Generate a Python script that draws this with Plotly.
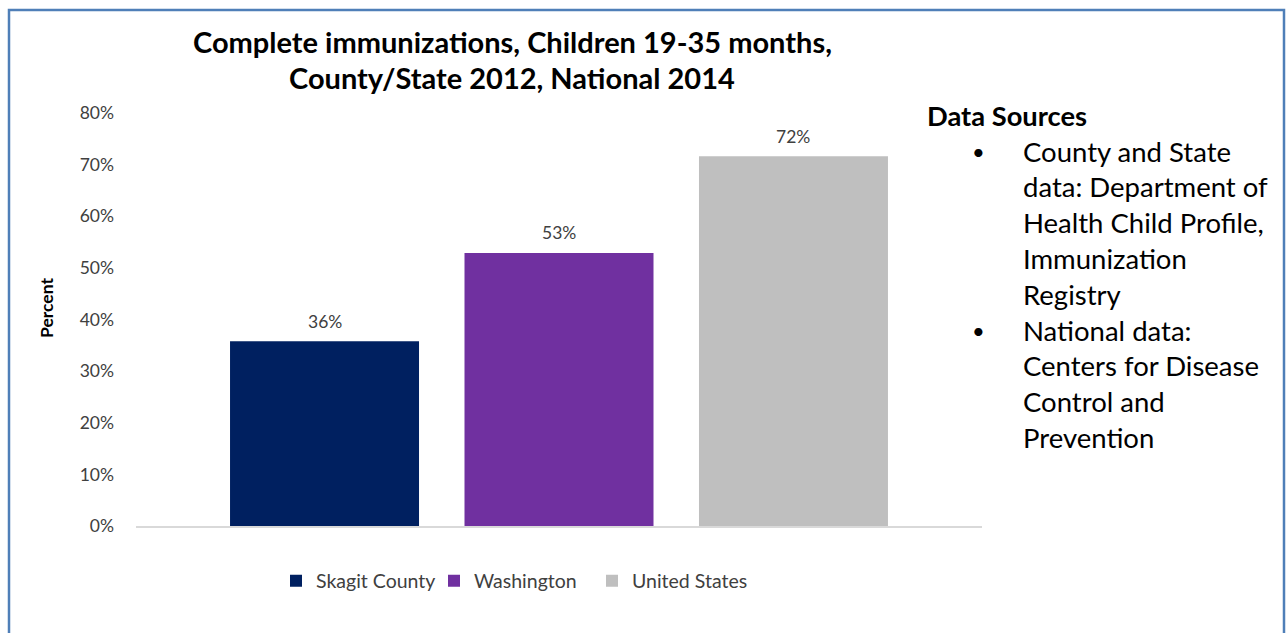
import plotly.graph_objects as go

categories = ["Skagit County", "Washington", "United States"]
values = [35.8, 52.9, 71.6]
labels = ["36%", "53%", "72%"]
colors = ["#002060", "#7030A0", "#BFBFBF"]
yticks = [0, 10, 20, 30, 40, 50, 60, 70, 80]
ytick_text = [f"{v}%" for v in yticks]
title_lines = ["Complete immunizations, Children 19-35 months,", "County/State 2012, National 2014"]
source_head = "Data Sources"
source_lines = [
    ("•", "County and State"),
    ("", "data: Department of"),
    ("", "Health Child Profile,"),
    ("", "Immunization"),
    ("", "Registry"),
    ("•", "National data:"),
    ("", "Centers for Disease"),
    ("", "Control and"),
    ("", "Prevention"),
]

W, H = 1286, 633
L, R, T, B = 136, 982, 113, 526
FONT = "Lato, 'Open Sans', sans-serif"

def px(x):
    return (x - L) / (R - L)

def py(y):
    return (B - y) / (B - T)

fig = go.Figure()
for c, v, col in zip(categories, values, colors):
    fig.add_trace(go.Bar(
        x=[c], y=[v], name=c, marker=dict(color=col, line=dict(width=0)),
        width=0.806, cliponaxis=False,
    ))

annotations = []
for c, v, lab in zip(categories, values, labels):
    annotations.append(dict(
        text=lab, x=c, y=v, xref="x", yref="y", xanchor="center", yanchor="middle",
        yshift=20, showarrow=False, font=dict(size=17.5, color="#404040", family=FONT)))
for i, line in enumerate(title_lines):
    annotations.append(dict(
        text=f"<b>{line}</b>", x=px(512), y=py(42 + i * 35), xref="paper", yref="paper",
        xanchor="center", yanchor="middle", showarrow=False,
        font=dict(size=29, color="#000000", family=FONT)))
annotations.append(dict(
    text=f"<b>{source_head}</b>", x=px(925), y=py(115), xref="paper", yref="paper",
    xanchor="left", yanchor="middle", showarrow=False,
    font=dict(size=27.3, color="#000000", family=FONT)))
for i, (bul, txt) in enumerate(source_lines):
    yy = 151 + i * 35.8
    if bul:
        annotations.append(dict(
            text=bul, x=px(978), y=py(yy), xref="paper", yref="paper",
            xanchor="center", yanchor="middle", showarrow=False,
            font=dict(size=22, color="#000000", family=FONT)))
    annotations.append(dict(
        text=txt, x=px(1021), y=py(yy), xref="paper", yref="paper",
        xanchor="left", yanchor="middle", showarrow=False,
        font=dict(size=27.5, color="#000000", family=FONT)))
annotations.append(dict(
    text="<b>Percent</b>", x=px(46), y=py(308), xref="paper", yref="paper",
    xanchor="center", yanchor="middle", showarrow=False, textangle=-90,
    font=dict(size=17.5, color="#000000", family=FONT)))

fig.update_layout(
    width=W, height=H,
    margin=dict(l=L, r=W - R, t=T, b=H - B, autoexpand=False),
    paper_bgcolor="white", plot_bgcolor="white",
    barmode="overlay",
    showlegend=True,
    legend=dict(orientation="h", x=px(276), y=py(581), xanchor="left", yanchor="middle",
                font=dict(size=19.5, color="#404040", family=FONT),
                entrywidth=113, entrywidthmode="pixels", itemwidth=30,
                traceorder="normal", bgcolor="rgba(0,0,0,0)"),
    xaxis=dict(range=[-0.804, 2.804], showticklabels=False, showgrid=False,
               showline=True, linecolor="#D9D9D9", linewidth=1.5, ticks="", zeroline=False),
    yaxis=dict(range=[0, 80], tickvals=yticks, ticktext=ytick_text, showgrid=False,
               showline=False, zeroline=False, ticks="", ticklabelstandoff=21,
               tickfont=dict(size=17.5, color="#404040", family=FONT)),
    annotations=annotations,
    shapes=[dict(type="rect", xref="paper", yref="paper",
                 x0=px(9), x1=px(1284), y0=py(10), y1=py(650),
                 line=dict(color="#4F7FB8", width=2.5), fillcolor="rgba(0,0,0,0)", layer="below")],
)

fig.write_html("out.html")
